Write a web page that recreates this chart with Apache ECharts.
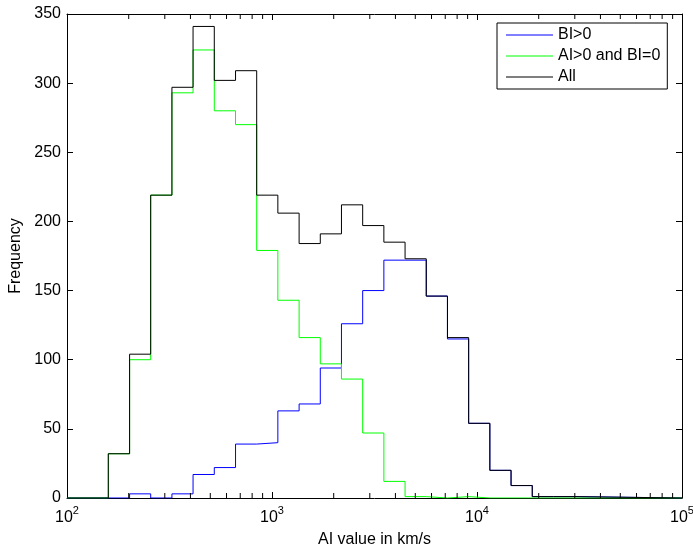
<!DOCTYPE html>
<html>
<head>
<meta charset="utf-8">
<script src="https://cdn.jsdelivr.net/npm/echarts@6/dist/echarts.min.js"></script>
<style>
  html, body { margin: 0; padding: 0; background: #fff; }
  #chart { width: 693px; height: 545px; }
</style>
</head>
<body>
<div id="chart"></div>
<script>
// Histogram bin edges (km/s) (log-spaced bins)
const binEdges = [159, 202, 256, 325, 412, 523, 664, 842, 1068, 1356, 1720, 2182,
                  2769, 3513, 4458, 5656, 7176, 9105, 11553, 14659, 18600, 23599, 29944];
// Counts per bin
const countsBI = [0, 3, 0, 3, 17, 22, 39, 40, 63, 68, 94, 126, 150, 172, 172, 146, 115, 54, 20, 9, 1, 1];
const countsAIonly = [32, 100, 219, 293, 324, 280, 270, 179, 143, 116, 97, 86, 47, 12, 1, 0, 1, 0, 0, 0, 0, 0];
const countsAll = [32, 104, 219, 297, 341, 302, 309, 219, 206, 184, 191, 212, 197, 185, 173, 146, 116, 54, 20, 9, 1, 1];
const seriesNames = ['BI>0', 'AI>0 and BI=0', 'All'];
const xRange = [100, 100000];
const yTicks = [0, 50, 100, 150, 200, 250, 300, 350];
const minorTickValues = [200, 300, 400, 500, 600, 700, 800, 900,
                         2000, 3000, 4000, 5000, 6000, 7000, 8000, 9000,
                         20000, 30000, 40000, 50000, 60000, 70000, 80000, 90000];

const FONT = "'Liberation Sans', Arial, Helvetica, sans-serif";
const FS = 16;

function stairs(counts) {
  const pts = [[xRange[0], 0]];
  for (let i = 0; i < counts.length; i++) pts.push([binEdges[i], counts[i]]);
  pts.push([binEdges[counts.length], 0]);
  pts.push([xRange[1], 0]);
  return pts;
}

const chart = echarts.init(document.getElementById('chart'), null, { renderer: 'canvas' });

const xAxisBase = {
  type: 'log', logBase: 10, min: xRange[0], max: xRange[1], splitNumber: 3,
  axisLine: { show: true, onZero: false, lineStyle: { color: '#000', width: 1 } },
  axisTick: { show: true, inside: true, length: 6, lineStyle: { color: '#000' } },
  splitLine: { show: false },
  minorTick: { show: false }
};

const option = {
  animation: false,
  backgroundColor: '#fff',
  grid: { left: 67, right: 11, top: 14, bottom: 47, containLabel: false, outerBoundsMode: 'none' },
  xAxis: [
    Object.assign({}, xAxisBase, {
      position: 'bottom',
      name: 'AI value in km/s', nameLocation: 'middle', nameGap: 34,
      nameTextStyle: { color: '#000', fontSize: FS, fontFamily: FONT },
      axisLabel: {
        show: true, color: '#000', margin: 7,
        formatter: v => '{b|10}{s|' + Math.round(Math.log10(v)) + '}',
        rich: {
          b: { fontSize: FS, fontFamily: FONT, color: '#000', padding: [5, 0, 0, 0] },
          s: { fontSize: 11, fontFamily: FONT, color: '#000', verticalAlign: 'top' }
        }
      }
    }),
    Object.assign({}, xAxisBase, { position: 'top', axisLabel: { show: false } })
  ],
  yAxis: [
    {
      type: 'value', min: 0, max: 350, interval: 50, position: 'left',
      name: 'Frequency', nameLocation: 'middle', nameGap: 41, nameRotate: 90,
      nameTextStyle: { color: '#000', fontSize: FS, fontFamily: FONT },
      axisLine: { show: true, lineStyle: { color: '#000', width: 1 } },
      axisTick: { show: true, inside: true, length: 6, lineStyle: { color: '#000' } },
      axisLabel: { color: '#000', fontSize: FS, fontFamily: FONT, margin: 6,
                   formatter: v => (yTicks.indexOf(v) >= 0 ? String(v) : '') },
      splitLine: { show: false }
    },
    {
      type: 'value', min: 0, max: 350, interval: 50, position: 'right',
      axisLine: { show: true, lineStyle: { color: '#000', width: 1 } },
      axisTick: { show: true, inside: true, length: 6, lineStyle: { color: '#000' } },
      axisLabel: { show: false },
      splitLine: { show: false }
    }
  ],
  legend: {
    show: true, orient: 'vertical', left: 497, top: 23,
    data: seriesNames,
    backgroundColor: '#fff', borderColor: '#000', borderWidth: 1,
    padding: [4, 7, 4, 9], itemGap: 5, itemWidth: 47, itemHeight: 16,
    textStyle: { color: '#000', fontSize: FS, fontFamily: FONT },
    icon: 'path://M0,7.5 L47,7.5 L47,8.5 L0,8.5 Z'
  },
  series: [
    {
      name: seriesNames[0], type: 'line', step: 'end', data: stairs(countsBI),
      symbol: 'none', lineStyle: { color: '#0000ff', width: 1 }, itemStyle: { color: '#0000ff' },
      z: 2, silent: true
    },
    {
      name: seriesNames[1], type: 'line', step: 'end', data: stairs(countsAIonly),
      symbol: 'none', lineStyle: { color: '#00ff00', width: 1 }, itemStyle: { color: '#00ff00' },
      z: 3, silent: true
    },
    {
      name: seriesNames[2], type: 'line', step: 'end', data: stairs(countsAll),
      symbol: 'none', lineStyle: { color: '#000000', width: 1 }, itemStyle: { color: '#000000' },
      z: 4, silent: true
    },
    {
      name: 'minorTicks', type: 'custom', silent: true, z: 5,
      data: minorTickValues.map(v => [v, 0]),
      encode: { x: 0, y: 1 },
      clip: false,
      renderItem: function (params, api) {
        const pb = api.coord([api.value(0), 0]);
        const pt = api.coord([api.value(0), 350]);
        return {
          type: 'group',
          children: [
            { type: 'line', shape: { x1: pb[0], y1: pb[1], x2: pb[0], y2: pb[1] - 5 }, style: { stroke: '#000', lineWidth: 1 } },
            { type: 'line', shape: { x1: pt[0], y1: pt[1], x2: pt[0], y2: pt[1] + 5 }, style: { stroke: '#000', lineWidth: 1 } }
          ]
        };
      }
    }
  ]
};
chart.setOption(option);
</script>
</body>
</html>
